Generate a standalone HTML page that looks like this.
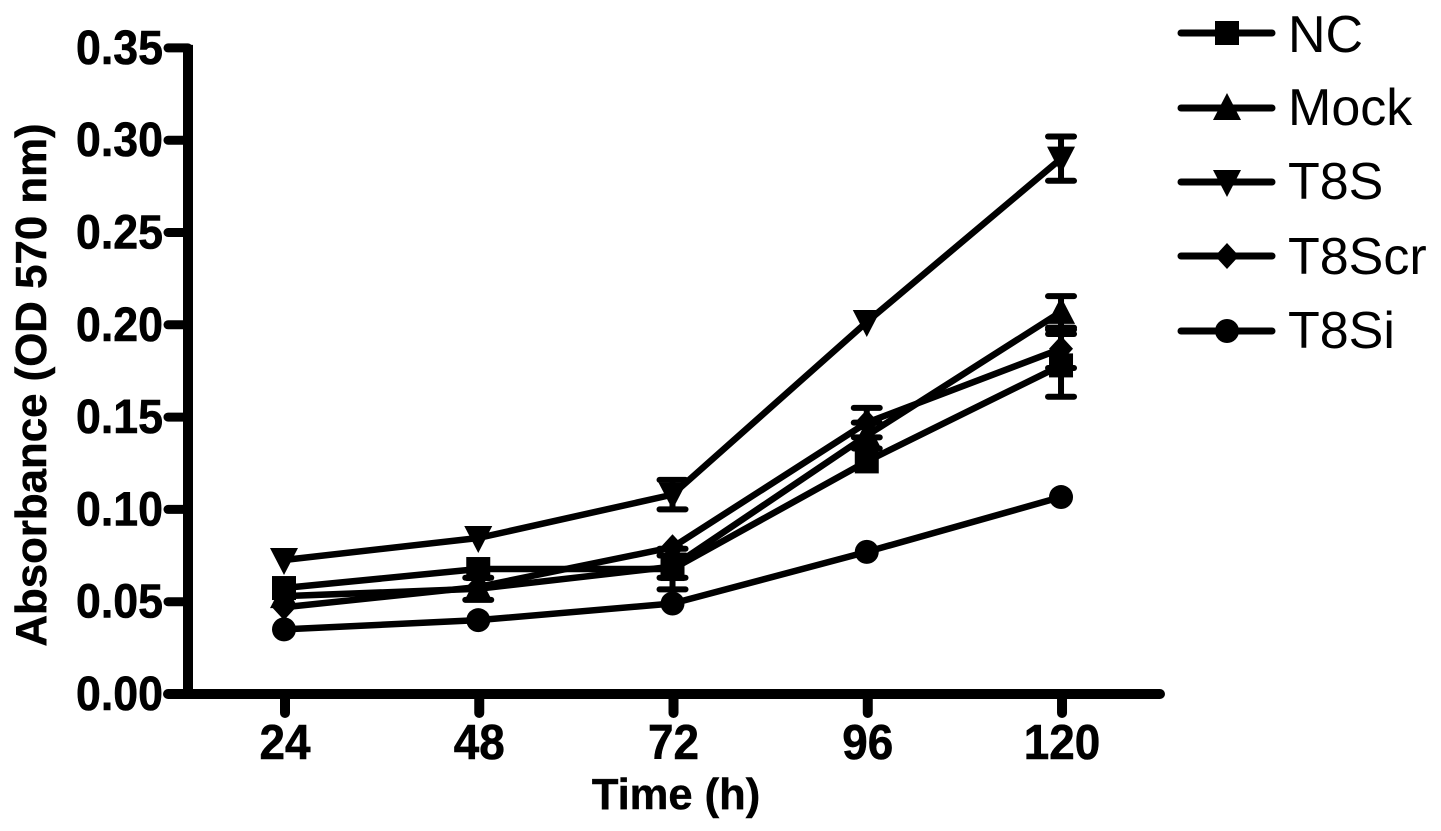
<!DOCTYPE html>
<html>
<head>
<meta charset="utf-8">
<title>Absorbance over time</title>
<style>
html,body{margin:0;padding:0;background:#fff;}
svg{display:block;}
text{font-family:"Liberation Sans",Arial,sans-serif;fill:#000;}
</style>
</head>
<body>
<svg id="chart" xmlns="http://www.w3.org/2000/svg" width="1441" height="831" viewBox="0 0 1441 831">
  <rect x="0" y="0" width="1441" height="831" fill="#ffffff"/>
  <text transform="translate(46,385) rotate(-90)" text-anchor="middle" font-size="43.8" font-weight="bold" stroke="#000" stroke-width="0.5">Absorbance (OD 570 nm)</text>
  <text x="676" y="809" text-anchor="middle" font-size="43.5" font-weight="bold" stroke="#000" stroke-width="0.5">Time (h)</text>
  <g id="axes"></g>
  <g id="series"></g>
  <g id="legend"></g>
</svg>
<script>
var categories = [24, 48, 72, 96, 120];
var yTicks = [0, 0.05, 0.10, 0.15, 0.20, 0.25, 0.30, 0.35];
var yTickLabels = ["0.00", "0.05", "0.10", "0.15", "0.20", "0.25", "0.30", "0.35"];
var seriesNames = ["NC", "Mock", "T8S", "T8Scr", "T8Si"];
var ncValues = [0.0574, 0.0677, 0.0677, 0.126, 0.178];
var ncErrors = [0, 0, 0.011, 0, 0.017];
var mockValues = [0.053, 0.057, 0.069, 0.140, 0.207];
var mockErrors = [0, 0.006, 0.006, 0.007, 0.0085];
var t8sValues = [0.0726, 0.0845, 0.108, 0.2015, 0.290];
var t8sErrors = [0, 0, 0.008, 0, 0.012];
var t8scrValues = [0.047, 0.058, 0.0795, 0.147, 0.187];
var t8scrErrors = [0, 0, 0, 0.008, 0.0104];
var t8siValues = [0.035, 0.040, 0.049, 0.077, 0.1067];
var t8siErrors = [0, 0, 0, 0, 0];

var NS = "http://www.w3.org/2000/svg";
function xScale(h) { return 284 + (h - 24) * 8.094; }
function yScale(v) { return 694 - v * 1846; }
function make(parent, tag, props) {
  var el = document.createElementNS(NS, tag);
  for (var k in props) { el.setAttribute(k, props[k]); }
  parent.appendChild(el);
  return el;
}
function drawMarker(parent, kind, x, y) {
  var el;
  if (kind === "square") {
    el = make(parent, "rect", { x: x - 12, y: y - 12, width: 24, height: 24, fill: "#000" });
  } else if (kind === "up") {
    el = make(parent, "polygon", { points: (x) + "," + (y - 15) + " " + (x + 14) + "," + (y + 12) + " " + (x - 14) + "," + (y + 12), fill: "#000" });
  } else if (kind === "down") {
    el = make(parent, "polygon", { points: (x - 14) + "," + (y - 12) + " " + (x + 14) + "," + (y - 12) + " " + (x) + "," + (y + 15), fill: "#000" });
  } else if (kind === "diamond") {
    el = make(parent, "polygon", { points: (x) + "," + (y - 13) + " " + (x + 12) + "," + (y) + " " + (x) + "," + (y + 13) + " " + (x - 12) + "," + (y), fill: "#000" });
  } else {
    el = make(parent, "circle", { cx: x, cy: y, r: 12, fill: "#000" });
  }
  return el;
}

var axes = document.getElementById("axes");
var yAxisLine = make(axes, "line", { x1: 188, y1: yScale(0.35) - 3, x2: 188, y2: yScale(0), stroke: "#000", "stroke-width": 10 });


var xAxisLine = make(axes, "line", { x1: 168, y1: 694, x2: 1160, y2: 694, stroke: "#000", "stroke-width": 10, "stroke-linecap": "round" });



yTicks.forEach(function (t, i) {
  var y = yScale(t);
  if (i > 0) {
    var tick = make(axes, "line", { x1: 168, y1: y, x2: 188, y2: y, stroke: "#000", "stroke-width": 9, "stroke-linecap": "round" });
    
    
  }
  var label = make(axes, "text", { x: 163, y: y + 16, "text-anchor": "end", "font-size": 48, "font-weight": "bold", textLength: 87, lengthAdjust: "spacingAndGlyphs", stroke: "#000", "stroke-width": 0.6 });
  
  
  label.textContent = yTickLabels[i];
});

categories.forEach(function (c) {
  var x = xScale(c) + 1;
  var tick = make(axes, "line", { x1: x, y1: 694, x2: x, y2: 713, stroke: "#000", "stroke-width": 10, "stroke-linecap": "round" });
  
  
  var text = String(c);
  var label = make(axes, "text", { x: x, y: 759, "text-anchor": "middle", "font-size": 49, "font-weight": "bold", textLength: text.length * 25.5, lengthAdjust: "spacingAndGlyphs", stroke: "#000", "stroke-width": 0.6 });
  
  
  label.textContent = text;
});

var allValues = [ncValues, mockValues, t8sValues, t8scrValues, t8siValues];
var allErrors = [ncErrors, mockErrors, t8sErrors, t8scrErrors, t8siErrors];
var markerKinds = ["square", "up", "down", "diamond", "circle"];
var seriesRoot = document.getElementById("series");

allValues.forEach(function (values, s) {
  var g = make(seriesRoot, "g", {});
  
  
  var pts = values.map(function (v, i) { return xScale(categories[i]) + "," + yScale(v); }).join(" ");
  var line = make(g, "polyline", { points: pts, fill: "none", stroke: "#000", "stroke-width": 6.5, "stroke-linejoin": "round" });
  
  
  values.forEach(function (v, i) {
    var x = xScale(categories[i]);
    var e = allErrors[s][i];
    if (e > 0) {
      var stem = make(g, "line", { x1: x, y1: yScale(v + e), x2: x, y2: yScale(v - e), stroke: "#000", "stroke-width": 6 });
      
      
      [v + e, v - e].forEach(function (end) {
        var cap = make(g, "line", { x1: x - 13, y1: yScale(end), x2: x + 13, y2: yScale(end), stroke: "#000", "stroke-width": 6, "stroke-linecap": "round" });
        
        
      });
    }
    var marker = drawMarker(g, markerKinds[s], x, yScale(v));
    
    
  });
});

var legendRoot = document.getElementById("legend");
var legendRows = [33, 108, 182, 256, 331];
var legendBaselines = [52, 125, 199, 274, 348];
seriesNames.forEach(function (name, i) {
  var g = make(legendRoot, "g", {});
  
  
  var y = legendRows[i];
  var sample = make(g, "line", { x1: 1181, y1: y, x2: 1272, y2: y, stroke: "#000", "stroke-width": 7, "stroke-linecap": "round" });
  
  
  var marker = drawMarker(g, markerKinds[i], 1227, y);
  
  
  var label = make(g, "text", { x: 1288, y: legendBaselines[i], "font-size": 52 });
  
  
  label.textContent = name;
});
</script>
</body>
</html>
